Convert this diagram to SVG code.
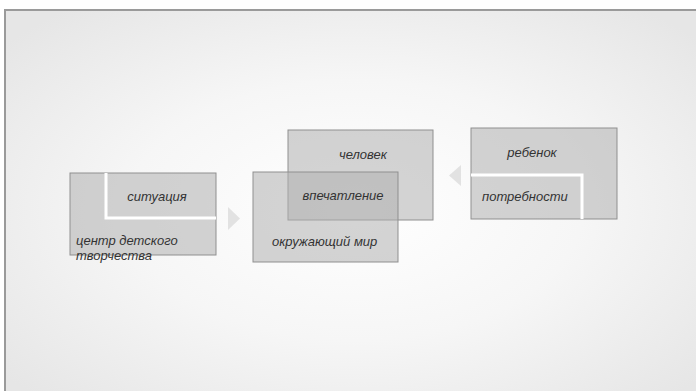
<svg xmlns="http://www.w3.org/2000/svg" width="696" height="391" viewBox="0 0 696 391">
<defs>
<radialGradient id="bg" cx="0.5" cy="0.5" r="0.65">
<stop offset="0" stop-color="#ffffff"/>
<stop offset="0.5" stop-color="#f6f6f6"/>
<stop offset="1" stop-color="#e6e6e6"/>
</radialGradient>
</defs>
<style>
.box{fill:#b0b0b0;fill-opacity:0.55;stroke:#8f8f8f;stroke-width:1}
.wl{fill:none;stroke:#ffffff;stroke-width:3}
.t{font-family:"Liberation Sans",Arial,sans-serif;font-size:13px;font-style:italic;fill:#333333}
.arr{fill:#e2e2e2}
</style>
<rect x="0" y="0" width="696" height="391" fill="#ffffff"/>
<rect x="5" y="10" width="700" height="400" fill="url(#bg)" stroke="#9a9a9a" stroke-width="2"/>
<g id="connectors">
<polygon class="arr" points="228,207 240,218.5 228,230"/>
<polygon class="arr" points="461,165 449,175.5 461,186"/>
</g>
<g id="left">
<rect class="box" x="70" y="173" width="146" height="82"/>
<polyline class="wl" points="106,173 106,218 216,218"/>
<text class="t" x="157" y="201" text-anchor="middle">ситуация</text>
<text class="t" x="76" y="245">центр детского</text>
<text class="t" x="76" y="260">творчества</text>
</g>
<g id="human">
<rect class="box" x="288" y="130" width="145" height="90"/>
<text class="t" x="363" y="159" text-anchor="middle">человек</text>
</g>
<g id="world">
<rect class="box" x="253" y="172" width="145" height="90"/>
<text class="t" x="343" y="200" text-anchor="middle">впечатление</text>
<text class="t" x="272" y="246">окружающий мир</text>
</g>
<g id="child">
<rect class="box" x="471" y="128" width="146" height="91"/>
<polyline class="wl" points="471,175 582,175 582,219"/>
<text class="t" x="532" y="157" text-anchor="middle">ребенок</text>
<text class="t" x="482" y="201">потребности</text>
</g>
</svg>
